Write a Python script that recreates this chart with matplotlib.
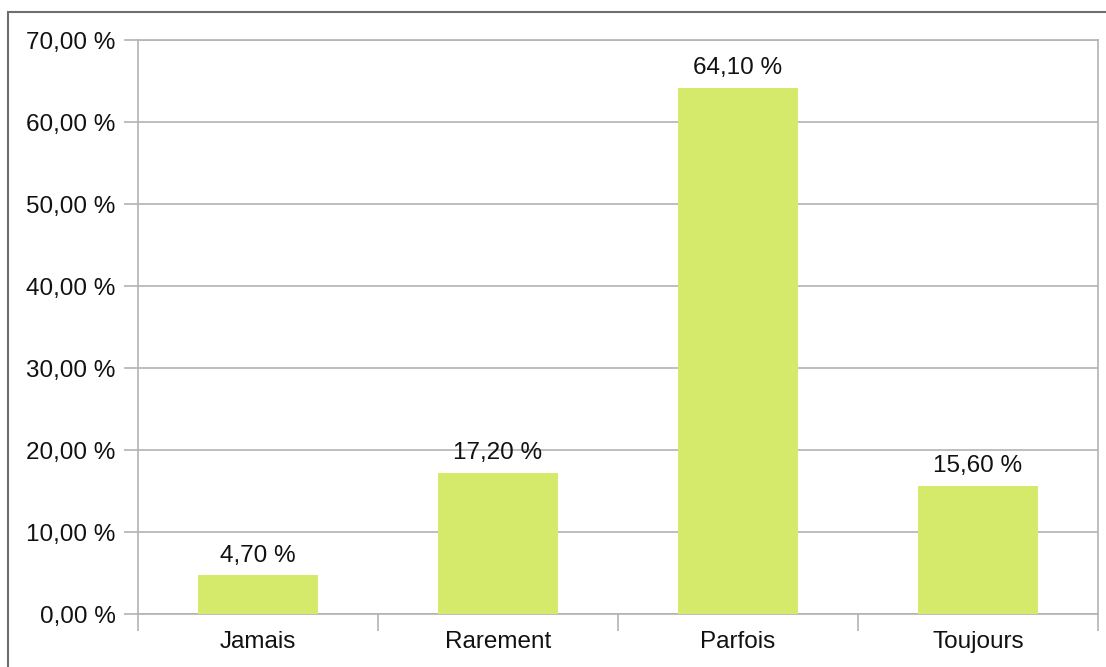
import matplotlib
matplotlib.use("Agg")
import matplotlib.pyplot as plt
from matplotlib.patches import Rectangle

categories = ["Jamais", "Rarement", "Parfois", "Toujours"]
values = [4.70, 17.20, 64.10, 15.60]
yticks = [0, 10, 20, 30, 40, 50, 60, 70]

plt.rcParams['font.family'] = ['Liberation Sans', 'DejaVu Sans']

fig = plt.figure(figsize=(11.06, 6.67), dpi=100)
W, H = 1106, 667
ax = fig.add_axes([138 / W, 1 - 614 / H, (1098 - 138) / W, (614 - 40) / H])

# outer frame of the chart area (partly cut off)
fig.patches.append(Rectangle((8 / W, -0.1), 1.2, 1 - 12 / H + 0.1, transform=fig.transFigure,
                             fill=False, edgecolor='#6e6e6e', linewidth=1.5, zorder=0))

grid_c = '#b3b3b3'
fs = 17.5
x = list(range(len(categories)))
ax.bar(x, values, width=0.5, color='#d5e96b', zorder=3)
ax.set_xlim(-0.5, len(categories) - 0.5)
ax.set_ylim(0, 70)

ax.set_yticks(yticks)
ax.set_yticklabels([f"{v:.2f}".replace('.', ',') + " %" for v in yticks], fontsize=fs, color='#111111')
ax.set_xticks(x)
ax.set_xticklabels(categories, fontsize=fs, color='#111111')
ax.set_xticks([i - 0.5 for i in range(len(categories) + 1)], minor=True)
ax.tick_params(axis='x', which='major', length=0, pad=12)
ax.tick_params(axis='x', which='minor', length=12, color=grid_c, width=1.2)
ax.tick_params(axis='y', length=10, color=grid_c, width=1.2, pad=6)
ax.yaxis.grid(True, color=grid_c, linewidth=1.2, zorder=0)
for s in ['left', 'right', 'bottom', 'top']:
    ax.spines[s].set_color(grid_c)
    ax.spines[s].set_linewidth(1.2)

for xi, v in zip(x, values):
    ax.annotate(f"{v:.2f}".replace('.', ',') + " %", (xi, v), xytext=(0, 10), textcoords='offset points',
                ha='center', va='baseline', fontsize=fs, color='#111111')

fig.savefig("out.png", dpi=100)
